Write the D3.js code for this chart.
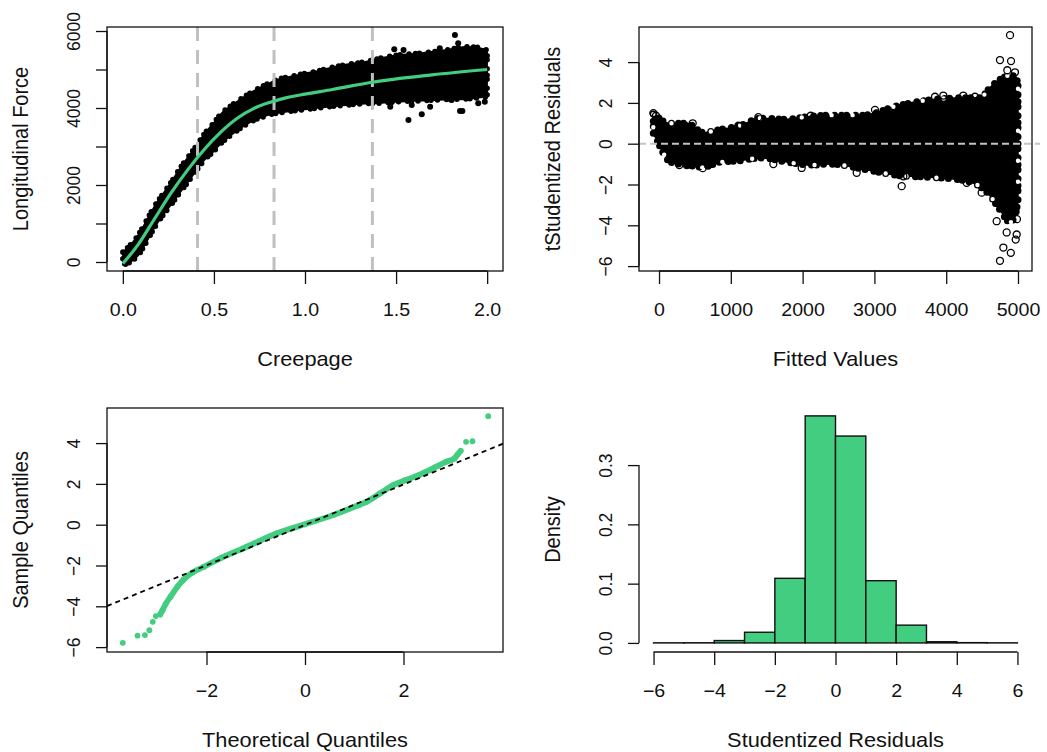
<!DOCTYPE html>
<html>
<head>
<meta charset="utf-8">
<script src="https://cdn.jsdelivr.net/npm/d3@7"></script>
<style>
  body { margin: 0; background: #fff; }
  svg text { font-family: Arial, "Liberation Sans", sans-serif; fill: #111; }
</style>
</head>
<body>
<svg id="chart" width="1047" height="752"></svg>
<script>
// ---------- panel 1: force vs creepage ----------
const creepGrid = [0, 0.042, 0.084, 0.13, 0.175, 0.22, 0.266, 0.31, 0.357, 0.4, 0.448, 0.5, 0.539, 0.585, 0.63,
  0.675, 0.72, 0.765, 0.81, 0.855, 0.9, 0.95, 1.0, 1.07, 1.15, 1.24, 1.33, 1.42, 1.51, 1.6, 1.696, 1.79, 1.878, 1.94, 2.0];
const forceUpper = [260, 450, 700, 1080, 1460, 1770, 2080, 2410, 2720, 3000, 3330, 3620, 3850, 4030, 4180, 4320, 4450,
  4560, 4660, 4750, 4800, 4850, 4900, 4960, 5060, 5140, 5200, 5300, 5380, 5410, 5460, 5520, 5590, 5580, 5500];
const forceLower = [-80, 0, 170, 520, 900, 1210, 1490, 1780, 2070, 2350, 2650, 2880, 3080, 3260, 3420, 3560, 3680,
  3760, 3830, 3870, 3900, 3930, 3960, 4000, 4040, 4080, 4110, 4130, 4160, 4180, 4200, 4220, 4230, 4260, 4290];
const fitCreep = [0, 0.084, 0.175, 0.266, 0.357, 0.448, 0.539, 0.63, 0.72, 0.81, 0.9, 1.0, 1.15, 1.368, 1.696, 2.0];
const fitForce = [-40, 450, 1130, 1800, 2400, 2930, 3380, 3740, 3990, 4150, 4270, 4360, 4480, 4670, 4860, 5000];
const outCreep = [1.823, 1.841, 1.541, 1.568, 1.641, 1.468, 1.586, 1.687, 1.851, 1.864, 1.951, 1.987, 1.75, 1.805, 1.74, 1.49];
const outForce = [5896, 5680, 5506, 3688, 3835, 4035, 4078, 4035, 3922, 3922, 4121, 4165, 4294, 4208, 5550, 5524];
const cutPoints = [0.41, 0.83, 1.37];

// ---------- panel 2: residuals vs fitted ----------
const fittedGrid = [-80, -40, 0, 160, 390, 620, 850, 1090, 1430, 1780, 2110, 2380, 2850, 3310, 3770, 4240, 4470,
  4610, 4750, 4890, 4960, 5000];
const residUpper = [1.45, 1.4, 1.25, 1.0, 1.0, 0.55, 0.7, 0.85, 1.25, 1.2, 1.35, 1.4, 1.4, 1.85, 2.15, 2.25, 2.25,
  2.75, 3.15, 3.35, 3.3, 2.95];
const residLower = [0.5, 0.25, -0.05, -0.9, -1.05, -1.15, -0.9, -0.85, -0.7, -0.9, -1.05, -1.0, -1.25, -1.55, -1.65,
  -1.8, -2.1, -2.55, -3.25, -3.85, -3.55, -2.75];
const residOutX = [-79, -42, 362, 469, 733, 608, 283, 385, 1105, 1383, 2112, 1987, 1592, 3008, 3844, 3960, 4238,
  4401, 3380, 4285, 4494, 2753, 3403, 4889, 4749, 4903, 4851, 4958, 4749, 4796, 4900, 4968, 4982, 4703, 4842,
  4819, 4985];
const residOutY = [1.5, 1.37, 0.88, 1.0, -0.95, -1.2, -1.05, -1.05, 0.88, 1.3, 1.37, -1.19, -1.0, 1.66, 2.3, 2.36,
  2.36, 2.3, -2.08, -1.92, -2.4, -1.43, -1.6, 5.32, 4.1, 4.05, 3.6, 3.5, -5.74, -5.09, -5.35, -4.7, -4.45, -3.8,
  -4.35, -3.2, -3.7];

// ---------- panel 3: normal QQ ----------
const qqTheo = [-3.70, -3.40, -3.25, -3.16, -3.09, -3.03, -2.94, -2.89, -2.83, -2.73, -2.59, -2.46, -2.29, -2.05,
  -1.72, -1.18, -0.58, 0.0, 0.57, 1.11, 1.25, 1.52, 1.79, 2.05, 2.32, 2.59, 2.86, 3.03, 3.10, 3.16, 3.27, 3.40, 3.72];
const qqSample = [-5.79, -5.44, -5.41, -5.17, -4.76, -4.48, -4.40, -4.18, -3.89, -3.53, -3.04, -2.68, -2.35, -2.06,
  -1.65, -1.08, -0.43, 0.02, 0.47, 0.98, 1.12, 1.53, 1.94, 2.19, 2.44, 2.75, 3.08, 3.24, 3.45, 3.62, 4.06, 4.09, 5.32];
const qqLineIntercept = -0.01;
const qqLineSlope = 0.99;

// ---------- panel 4: histogram ----------
const binEdges = [-6, -5, -4, -3, -2, -1, 0, 1, 2, 3, 4, 5, 6];
const binDensity = [0.0002, 0.0003, 0.004, 0.018, 0.109, 0.383, 0.349, 0.105, 0.030, 0.002, 0.0005, 0.0002];

const GREEN = '#43CD80';
const STRETCH = 1.09; // the reference text is slightly wider than tall
const svg = d3.select('#chart');
svg.append('rect').attr('width', 1047).attr('height', 752).attr('fill', '#fff');

// plot regions
const boxFit = { left: 107, right: 503, top: 27, bottom: 271 };
const boxRes = { left: 639, right: 1032, top: 27, bottom: 271 };
const boxQQ = { left: 107, right: 503, top: 408, bottom: 652 };
const boxHist = { left: 639, right: 1032, top: 407, bottom: 652 };

// R style axis: line from first to last tick, ticks outward, labels rotated on y
function drawAxes(box, x, y, xTicks, yTicks, xFmt, yFmt, xTitle, yTitle, withBox) {
  const gx = svg.append('g').attr('transform', `translate(0,${box.bottom})`)
    .call(d3.axisBottom(x).tickValues(xTicks).tickSize(13).tickSizeOuter(0).tickFormat(xFmt));
  gx.select('.domain').remove();
  gx.selectAll('line').attr('stroke', '#111').attr('stroke-width', 1.3);
  gx.selectAll('text').attr('transform', `translate(0,45) scale(${STRETCH},1)`).attr('y', 0).attr('dy', 0)
    .style('font-size', '18px').attr('fill', '#111');
  gx.append('line').attr('x1', x(xTicks[0])).attr('x2', x(xTicks[xTicks.length - 1]))
    .attr('stroke', '#111').attr('stroke-width', 1.3);

  const gy = svg.append('g').attr('transform', `translate(${box.left},0)`)
    .call(d3.axisLeft(y).tickValues(yTicks).tickSize(11).tickSizeOuter(0).tickFormat(yFmt));
  gy.select('.domain').remove();
  gy.selectAll('line').attr('stroke', '#111').attr('stroke-width', 1.3);
  gy.selectAll('text').attr('transform', `translate(-27,0) scale(${STRETCH},1) rotate(-90)`)
    .attr('x', 0).attr('y', 0).attr('dy', 0)
    .attr('text-anchor', 'middle').style('font-size', '17.5px').attr('fill', '#111');
  gy.append('line').attr('y1', y(yTicks[0])).attr('y2', y(yTicks[yTicks.length - 1]))
    .attr('stroke', '#111').attr('stroke-width', 1.3);

  if (withBox) {
    svg.append('rect').attr('x', box.left).attr('y', box.top)
      .attr('width', box.right - box.left).attr('height', box.bottom - box.top)
      .attr('fill', 'none').attr('stroke', '#111').attr('stroke-width', 1.3);
  }
  const cx = (box.left + box.right) / 2, cy = (box.top + box.bottom) / 2;
  svg.append('text').attr('transform', `translate(${cx},${box.bottom + 95}) scale(${STRETCH},1)`)
    .attr('text-anchor', 'middle').style('font-size', '20px').text(xTitle);
  svg.append('text').attr('transform', `translate(${box.left - 79},${cy}) scale(${STRETCH},1) rotate(-90)`)
    .attr('text-anchor', 'middle').style('font-size', '20px').text(yTitle);
}

function clipFor(id, box) {
  svg.append('clipPath').attr('id', id).append('rect')
    .attr('x', box.left).attr('y', box.top)
    .attr('width', box.right - box.left).attr('height', box.bottom - box.top);
  return `url(#${id})`;
}

// ===== panel 1 =====
{
  const x = d3.scaleLinear().domain([-0.087, 2.087]).range([boxFit.left, boxFit.right]);
  const y = d3.scaleLinear().domain([-234, 6104]).range([boxFit.bottom, boxFit.top]);
  const g = svg.append('g').attr('clip-path', clipFor('clipFit', boxFit));

  const cloud = creepGrid.map((c, i) => ({ c, lo: forceLower[i], hi: forceUpper[i] }));
  const area = d3.area().x(d => x(d.c)).y0(d => y(d.lo)).y1(d => y(d.hi)).curve(d3.curveMonotoneX);
  g.append('path').datum(cloud).attr('d', area)
    .attr('fill', '#000').attr('stroke', '#000').attr('stroke-width', 1.5).attr('stroke-linejoin', 'round');
  // dotted outline so the edge of the cloud looks like overlapping points
  g.append('path').datum(cloud).attr('d', area)
    .attr('fill', 'none').attr('stroke', '#000').attr('stroke-width', 5.5)
    .attr('stroke-dasharray', '0,6.5,0,4,0,9').attr('stroke-linecap', 'round');

  g.selectAll('.out').data(outCreep).enter().append('circle')
    .attr('cx', d => x(d)).attr('cy', (d, i) => y(outForce[i])).attr('r', 3).attr('fill', '#000');

  g.selectAll('.cut').data(cutPoints).enter().append('line')
    .attr('x1', d => x(d)).attr('x2', d => x(d))
    .attr('y1', boxFit.top).attr('y2', boxFit.bottom)
    .attr('stroke', '#c0c0c0').attr('stroke-width', 3).attr('stroke-dasharray', '14,9');

  const fit = fitCreep.map((c, i) => [c, fitForce[i]]);
  g.append('path').datum(fit)
    .attr('d', d3.line().x(d => x(d[0])).y(d => y(d[1])).curve(d3.curveMonotoneX))
    .attr('fill', 'none').attr('stroke', GREEN).attr('stroke-width', 3.2);

  drawAxes(boxFit, x, y, [0, 0.5, 1, 1.5, 2], d3.range(0, 6001, 1000),
    d3.format('.1f'), d => (d % 2000 === 0 ? d : ''), 'Creepage', 'Longitudinal Force', true);
}

// ===== panel 2 =====
{
  const x = d3.scaleLinear().domain([-279, 5195]).range([boxRes.left, boxRes.right]);
  const y = d3.scaleLinear().domain([-6.24, 5.72]).range([boxRes.bottom, boxRes.top]);
  const g = svg.append('g').attr('clip-path', clipFor('clipRes', boxRes));

  const cloud = fittedGrid.map((f, i) => ({ f, lo: residLower[i], hi: residUpper[i] }));
  const area = d3.area().x(d => x(d.f)).y0(d => y(d.lo)).y1(d => y(d.hi)).curve(d3.curveMonotoneX);
  g.append('path').datum(cloud).attr('d', area)
    .attr('fill', '#000').attr('stroke', '#000').attr('stroke-width', 1.5).attr('stroke-linejoin', 'round');
  // bumpy outline, with only some of the edge circles left open
  g.append('path').datum(cloud).attr('d', area)
    .attr('fill', 'none').attr('stroke', '#000').attr('stroke-width', 7)
    .attr('stroke-dasharray', '0,7,0,5,0,9').attr('stroke-linecap', 'round');
  g.append('path').datum(cloud).attr('d', area)
    .attr('fill', 'none').attr('stroke', '#fff').attr('stroke-width', 4.4)
    .attr('stroke-dasharray', '0,21,0,42,0,30').attr('stroke-linecap', 'round');

  g.selectAll('.out').data(residOutX).enter().append('circle')
    .attr('cx', d => x(d)).attr('cy', (d, i) => y(residOutY[i])).attr('r', 3.5)
    .attr('fill', 'none').attr('stroke', '#000').attr('stroke-width', 1.3);

  svg.append('line').attr('x1', boxRes.left).attr('x2', boxRes.right + 8)
    .attr('y1', y(0)).attr('y2', y(0))
    .attr('stroke', '#c4c4c4').attr('stroke-width', 2).attr('stroke-dasharray', '7,4');

  drawAxes(boxRes, x, y, d3.range(0, 5001, 1000), d3.range(-6, 5, 2),
    d3.format('d'), d3.format('d'), 'Fitted Values', 'tStudentized Residuals', true);
}

// ===== panel 3 =====
{
  const x = d3.scaleLinear().domain([-4.02, 4.02]).range([boxQQ.left, boxQQ.right]);
  const y = d3.scaleLinear().domain([-6.24, 5.72]).range([boxQQ.bottom, boxQQ.top]);
  const g = svg.append('g').attr('clip-path', clipFor('clipQQ', boxQQ));

  const pts = qqTheo.map((t, i) => [t, qqSample[i]]);
  // dense middle part drawn as a thick band of points
  const dense = pts.filter(d => d[0] > -3.0 && d[0] < 3.2);
  g.append('path').datum(dense)
    .attr('d', d3.line().x(d => x(d[0])).y(d => y(d[1])).curve(d3.curveMonotoneX))
    .attr('fill', 'none').attr('stroke', GREEN).attr('stroke-width', 5.8).attr('stroke-linecap', 'round');
  g.selectAll('.pt').data(pts).enter().append('circle')
    .attr('cx', d => x(d[0])).attr('cy', d => y(d[1])).attr('r', 2.9).attr('fill', GREEN);

  const xd = x.domain();
  g.append('line')
    .attr('x1', x(xd[0])).attr('y1', y(qqLineIntercept + qqLineSlope * xd[0]))
    .attr('x2', x(xd[1])).attr('y2', y(qqLineIntercept + qqLineSlope * xd[1]))
    .attr('stroke', '#000').attr('stroke-width', 1.8).attr('stroke-dasharray', '5,4');

  drawAxes(boxQQ, x, y, [-2, 0, 2], d3.range(-6, 5, 2),
    d3.format('d'), d3.format('d'), 'Theoretical Quantiles', 'Sample Quantiles', true);
}

// ===== panel 4 =====
{
  const x = d3.scaleLinear().domain([-6.48, 6.48]).range([boxHist.left, boxHist.right]);
  const y = d3.scaleLinear().domain([-0.0153, 0.398]).range([boxHist.bottom, boxHist.top]);

  svg.selectAll('.bar').data(binDensity).enter().append('rect')
    .attr('x', (d, i) => x(binEdges[i]))
    .attr('width', (d, i) => x(binEdges[i + 1]) - x(binEdges[i]))
    .attr('y', d => y(d))
    .attr('height', d => y(0) - y(d))
    .attr('fill', GREEN).attr('stroke', '#111').attr('stroke-width', 1.4);

  drawAxes(boxHist, x, y, d3.range(-6, 7, 2), [0, 0.1, 0.2, 0.3],
    d3.format('d'), d3.format('.1f'), 'Studentized Residuals', 'Density', false);
}
</script>
</body>
</html>
